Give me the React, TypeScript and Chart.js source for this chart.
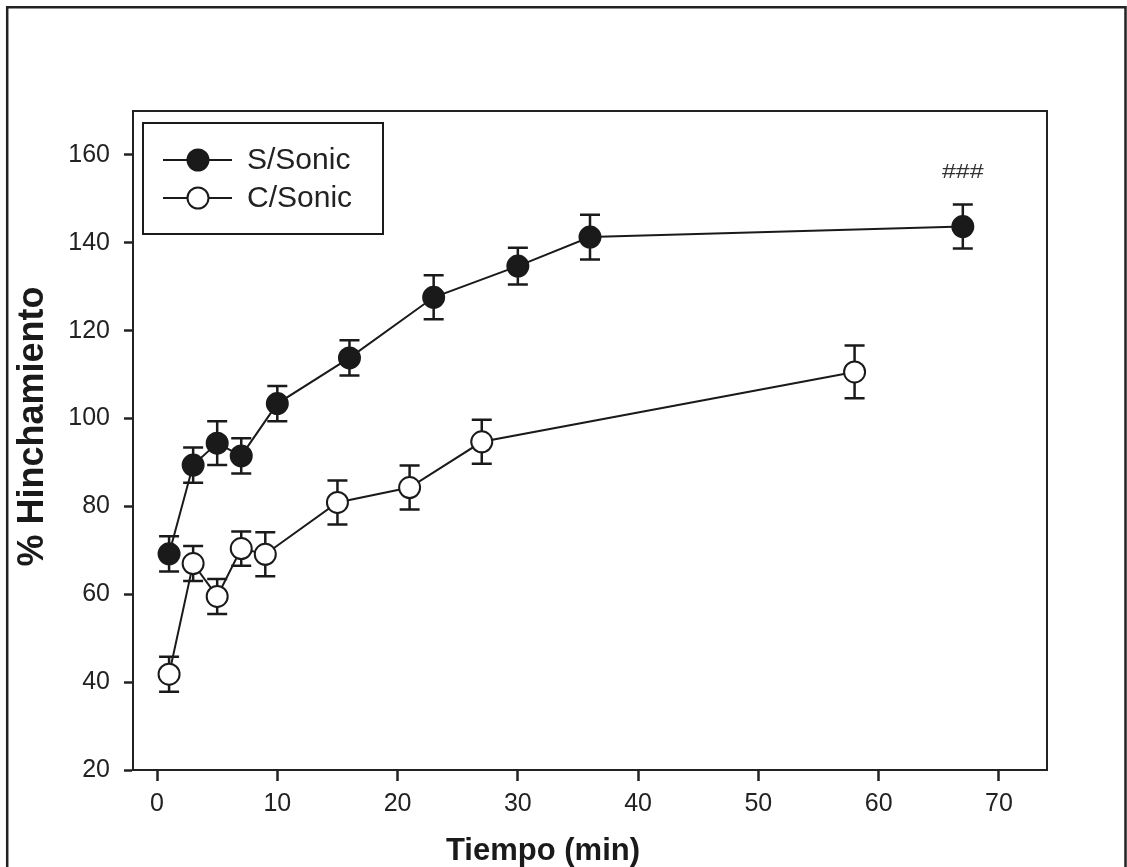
import React, { useEffect, useRef } from "react";
import { Chart, registerables } from "chart.js";

Chart.register(...registerables);

// ---- data ----
const seriesNames = ["S/Sonic", "C/Sonic"];
const sTime = [1, 3, 5, 7, 10, 16, 23, 30, 36, 67];
const sMean = [69.2, 89.4, 94.4, 91.5, 103.4, 113.8, 127.6, 134.7, 141.3, 143.7];
const sErr = [4, 4, 5, 4, 4, 4, 5, 4.2, 5.1, 5];
const cTime = [1, 3, 5, 7, 9, 15, 21, 27, 58];
const cMean = [41.8, 67.0, 59.5, 70.4, 69.1, 80.9, 84.3, 94.7, 110.6];
const cErr = [4, 4, 4, 3.9, 5, 5, 5, 5, 6];
const xTicks = [0, 10, 20, 30, 40, 50, 60, 70];
const yTicks = [20, 40, 60, 80, 100, 120, 140, 160];
const xTitle = "Tiempo (min)";
const yTitle = "% Hinchamiento";
const sigLabel = "###";
const sigX = 67;
const sigY = 156;

const FONT = "'Liberation Sans', Arial, Helvetica, sans-serif";
const INK = "#1a1a1a";

const errorBars = {
  id: "errorBars",
  beforeDatasetsDraw(chart: any) {
    const { ctx } = chart;
    const xs = chart.scales.x;
    const ys = chart.scales.y;
    const sets = [
      { t: sTime, m: sMean, e: sErr },
      { t: cTime, m: cMean, e: cErr },
    ];
    ctx.save();
    ctx.strokeStyle = INK;
    ctx.lineWidth = 2.5;
    sets.forEach((s) => {
      s.t.forEach((t, i) => {
        const x = xs.getPixelForValue(t);
        const y1 = ys.getPixelForValue(s.m[i] + s.e[i]);
        const y2 = ys.getPixelForValue(s.m[i] - s.e[i]);
        ctx.beginPath();
        ctx.moveTo(x, y1);
        ctx.lineTo(x, y2);
        ctx.moveTo(x - 10, y1);
        ctx.lineTo(x + 10, y1);
        ctx.moveTo(x - 10, y2);
        ctx.lineTo(x + 10, y2);
        ctx.stroke();
      });
    });
    ctx.restore();
  },
};

const decor = {
  id: "decor",
  afterDraw(chart: any) {
    const { ctx, chartArea } = chart;
    const xs = chart.scales.x;
    const ys = chart.scales.y;
    ctx.save();
    // outer frame
    ctx.strokeStyle = "#222";
    ctx.lineWidth = 2.5;
    ctx.beginPath();
    ctx.moveTo(7.2, 867);
    ctx.lineTo(7.2, 7.2);
    ctx.lineTo(1125.5, 7.2);
    ctx.lineTo(1125.5, 867);
    ctx.stroke();
    // plot box top/right
    ctx.lineWidth = 2;
    ctx.beginPath();
    ctx.moveTo(chartArea.left, chartArea.top);
    ctx.lineTo(chartArea.right, chartArea.top);
    ctx.lineTo(chartArea.right, chartArea.bottom);
    ctx.stroke();
    // legend
    ctx.strokeStyle = INK;
    ctx.lineWidth = 2;
    ctx.strokeRect(143, 123, 240, 111);
    const rows = [160, 198];
    rows.forEach((ry, i) => {
      ctx.beginPath();
      ctx.moveTo(163, ry);
      ctx.lineTo(232, ry);
      ctx.stroke();
      ctx.beginPath();
      ctx.arc(198, ry, 10.5, 0, Math.PI * 2);
      ctx.fillStyle = i === 0 ? INK : "#fff";
      ctx.fill();
      ctx.stroke();
      ctx.fillStyle = "#222";
      ctx.font = `30px ${FONT}`;
      ctx.textAlign = "left";
      ctx.textBaseline = "middle";
      ctx.fillText(seriesNames[i], 247, ry + 1);
    });
    // significance mark
    ctx.save();
    ctx.translate(xs.getPixelForValue(sigX), ys.getPixelForValue(sigY));
    ctx.scale(1.25, 1);
    ctx.font = `20px ${FONT}`;
    ctx.fillStyle = "#333";
    ctx.textAlign = "center";
    ctx.textBaseline = "middle";
    ctx.fillText(sigLabel, 0, 0);
    ctx.restore();
    // axis titles
    ctx.fillStyle = INK;
    ctx.font = `bold 31px ${FONT}`;
    ctx.textAlign = "center";
    ctx.textBaseline = "alphabetic";
    ctx.fillText(xTitle, 543, 860);
    ctx.save();
    ctx.translate(43, 426.5);
    ctx.rotate(-Math.PI / 2);
    ctx.font = `bold 36px ${FONT}`;
    ctx.fillText(yTitle, 0, 0);
    ctx.restore();
    ctx.restore();
  },
};

export default function App() {
  const ref = useRef<HTMLCanvasElement>(null);
  useEffect(() => {
    if (!ref.current) return;
    const mk = (t: number[], m: number[]) => t.map((x, i) => ({ x, y: m[i] }));
    const chart = new Chart(ref.current, {
      type: "scatter",
      data: {
        datasets: [
          {
            label: seriesNames[0],
            data: mk(sTime, sMean),
            showLine: true,
            borderColor: INK,
            borderWidth: 2,
            pointRadius: 10.5,
            pointBackgroundColor: INK,
            pointBorderColor: INK,
            pointBorderWidth: 2,
          },
          {
            label: seriesNames[1],
            data: mk(cTime, cMean),
            showLine: true,
            borderColor: INK,
            borderWidth: 2,
            pointRadius: 10.5,
            pointBackgroundColor: "#ffffff",
            pointBorderColor: INK,
            pointBorderWidth: 2,
          },
        ],
      },
      options: {
        animation: false,
        responsive: false,
        maintainAspectRatio: false,
        layout: { padding: { left: 0, top: 111, right: 80, bottom: 0 } },
        plugins: { legend: { display: false }, tooltip: { enabled: false } },
        scales: {
          x: {
            type: "linear",
            min: -2,
            max: 74,
            afterBuildTicks: (a: any) => {
              a.ticks = xTicks.map((v) => ({ value: v }));
            },
            afterFit: (s: any) => {
              s.height = 867 - 770;
            },
            grid: {
              drawOnChartArea: false,
              drawTicks: true,
              tickLength: 11,
              tickWidth: 2.5,
              tickColor: "#222",
            },
            border: { display: true, color: "#222", width: 2 },
            ticks: {
              font: { family: FONT, size: 25 },
              color: "#222",
              padding: 8,
              maxRotation: 0,
              autoSkip: false,
            },
          },
          y: {
            type: "linear",
            min: 20,
            max: 170,
            afterBuildTicks: (a: any) => {
              a.ticks = yTicks.map((v) => ({ value: v }));
            },
            afterFit: (s: any) => {
              s.width = 133;
            },
            grid: {
              drawOnChartArea: false,
              drawTicks: true,
              tickLength: 9,
              tickWidth: 2.5,
              tickColor: "#222",
            },
            border: { display: true, color: "#222", width: 2 },
            ticks: {
              font: { family: FONT, size: 25 },
              color: "#222",
              padding: 14,
              autoSkip: false,
            },
          },
        },
      },
      plugins: [errorBars, decor],
    } as any);
    return () => chart.destroy();
  }, []);
  return (
    <div style={{ position: "absolute", left: 0, top: 0, width: 1127, height: 867, background: "#fff" }}>
      <canvas ref={ref} width={1127} height={867} style={{ display: "block", width: 1127, height: 867 }} />
    </div>
  );
}
